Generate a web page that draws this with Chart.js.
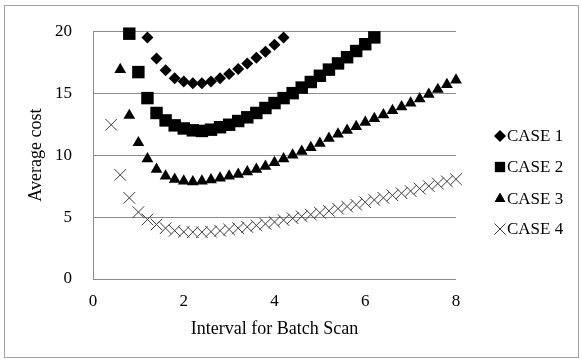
<!DOCTYPE html>
<html>
<head>
<meta charset="utf-8">
<script src="https://cdn.jsdelivr.net/npm/chart.js@4"></script>
<style>
  html, body { margin: 0; padding: 0; background: #fff; }
  #wrap { position: relative; width: 582px; height: 361px; }
  #frame { position: absolute; left: 4px; top: 5px; width: 575px; height: 353px; border: 1px solid #a0a0a0; box-sizing: border-box; pointer-events: none; }
  canvas { position: absolute; left: 0; top: 0; }
</style>
</head>
<body>
<div id="wrap">
  <canvas id="c" width="582" height="361"></canvas>
  <div id="frame"></div>
</div>
<script>
// ---- data ----
const seriesNames = ["CASE 1", "CASE 2", "CASE 3", "CASE 4"];

const xCase1 = [1.2,1.4,1.6,1.8,2.0,2.2,2.4,2.6,2.8,3.0,3.2,3.4,3.6,3.8,4.0,4.2];
const yCase1 = [19.5,17.8,16.85,16.2,15.95,15.8,15.8,15.95,16.2,16.55,16.95,17.4,17.85,18.35,18.9,19.5];

const xCase2 = [0.8,1.0,1.2,1.4,1.6,1.8,2.0,2.2,2.4,2.6,2.8,3.0,3.2,3.4,3.6,3.8,4.0,4.2,4.4,4.6,4.8,5.0,5.2,5.4,5.6,5.8,6.0,6.2];
const yCase2 = [19.8,16.7,14.6,13.4,12.8,12.4,12.15,12.0,11.95,12.05,12.25,12.45,12.75,13.05,13.4,13.8,14.2,14.6,15.0,15.45,15.9,16.4,16.9,17.4,17.9,18.4,18.95,19.5];

const xCase3 = [0.6,0.8,1.0,1.2,1.4,1.6,1.8,2.0,2.2,2.4,2.6,2.8,3.0,3.2,3.4,3.6,3.8,4.0,4.2,4.4,4.6,4.8,5.0,5.2,5.4,5.6,5.8,6.0,6.2,6.4,6.6,6.8,7.0,7.2,7.4,7.6,7.8,8.0];
const yCase3 = [16.9,13.2,11.0,9.7,8.85,8.3,8.05,7.9,7.85,7.9,8.0,8.15,8.3,8.45,8.65,8.85,9.1,9.4,9.7,10.0,10.3,10.6,10.95,11.35,11.7,12.0,12.3,12.65,12.95,13.25,13.6,13.9,14.2,14.55,14.9,15.3,15.7,16.05];

const xCase4 = [0.4,0.6,0.8,1.0,1.2,1.4,1.6,1.8,2.0,2.2,2.4,2.6,2.8,3.0,3.2,3.4,3.6,3.8,4.0,4.2,4.4,4.6,4.8,5.0,5.2,5.4,5.6,5.8,6.0,6.2,6.4,6.6,6.8,7.0,7.2,7.4,7.6,7.8,8.0];
const yCase4 = [12.45,8.4,6.55,5.4,4.8,4.4,4.1,3.9,3.8,3.78,3.78,3.82,3.9,4.0,4.1,4.2,4.32,4.45,4.6,4.75,4.9,5.05,5.2,5.35,5.5,5.68,5.85,6.0,6.2,6.38,6.55,6.75,6.92,7.1,7.3,7.5,7.7,7.88,8.05];

const xTicks = [0, 2, 4, 6, 8];
const yTicks = [0, 5, 10, 15, 20];
const xTitle = "Interval for Batch Scan";
const yTitle = "Average cost";

// ---- styles ----
const FONT = "'Liberation Serif', 'Times New Roman', serif";
function pts(xs, ys) { return xs.map((x, i) => ({ x: x, y: ys[i] })); }

const styles = [
  { pointStyle: 'rectRot', radius: 6, color: '#000', border: 0, legendR: 5.8 },
  { pointStyle: 'rect', radius: 8.8, color: '#000', border: 0, legendR: 7.2 },
  { pointStyle: 'triangle', radius: 6.8, color: '#000', border: 0, legendR: 6.2 },
  { pointStyle: 'crossRot', radius: 8.2, color: '#3a3a3a', border: 1, legendR: 7.8 }
];
const allX = [xCase1, xCase2, xCase3, xCase4];
const allY = [yCase1, yCase2, yCase3, yCase4];

const datasets = seriesNames.map((name, i) => ({
  label: name,
  data: pts(allX[i], allY[i]),
  pointStyle: styles[i].pointStyle,
  pointRadius: styles[i].radius,
  pointBackgroundColor: styles[i].color,
  pointBorderColor: styles[i].color,
  pointBorderWidth: styles[i].border,
  showLine: false,
  clip: false
}));

const legendPlugin = {
  id: 'customLegend',
  afterDraw(chart) {
    const ctx = chart.ctx;
    const rows = [136, 167, 199, 229];
    ctx.save();
    chart.data.datasets.forEach((ds, i) => {
      const y = rows[i];
      const st = styles[i];
      ctx.fillStyle = st.color;
      ctx.strokeStyle = st.color;
      ctx.lineWidth = st.border || 1;
      Chart.helpers.drawPoint(ctx, { pointStyle: st.pointStyle, radius: st.legendR, borderWidth: st.border }, 500, y);
      if (st.border === 0) { ctx.fill(); }
      ctx.fillStyle = '#000';
      ctx.font = "17px " + FONT;
      ctx.textAlign = 'left';
      ctx.textBaseline = 'middle';
      ctx.fillText(ds.label, 507, y + 1);
    });
    ctx.restore();
  }
};

new Chart(document.getElementById('c'), {
  type: 'scatter',
  data: { datasets: datasets },
  options: {
    responsive: false,
    animation: false,
    devicePixelRatio: 1,
    layout: { padding: { top: 25, right: 126, bottom: 0, left: 0 } },
    plugins: { legend: { display: false }, tooltip: { enabled: false } },
    scales: {
      x: {
        type: 'linear', min: 0, max: 8,
        afterFit(scale) { scale.height = 82; },
        afterBuildTicks(scale) { scale.ticks = xTicks.map(v => ({ value: v })); },
        grid: { display: false, drawTicks: false },
        border: { display: false },
        ticks: { padding: 12, color: '#000', font: { family: FONT, size: 17 } },
        title: { display: true, text: xTitle, color: '#000', font: { family: FONT, size: 18 }, padding: { top: 4, bottom: 21 } }
      },
      y: {
        type: 'linear', min: 0, max: 20,
        afterFit(scale) { scale.width = 93; },
        afterBuildTicks(scale) { scale.ticks = yTicks.map(v => ({ value: v })); },
        grid: { color: '#8c8c8c', lineWidth: 1, drawTicks: false },
        border: { display: true, color: '#8c8c8c', width: 1 },
        ticks: { padding: 21, color: '#000', font: { family: FONT, size: 17 } },
        title: { display: true, text: yTitle, color: '#000', font: { family: FONT, size: 18 }, padding: { top: 25, bottom: 0 } }
      }
    }
  },
  plugins: [legendPlugin]
});
</script>
</body>
</html>
